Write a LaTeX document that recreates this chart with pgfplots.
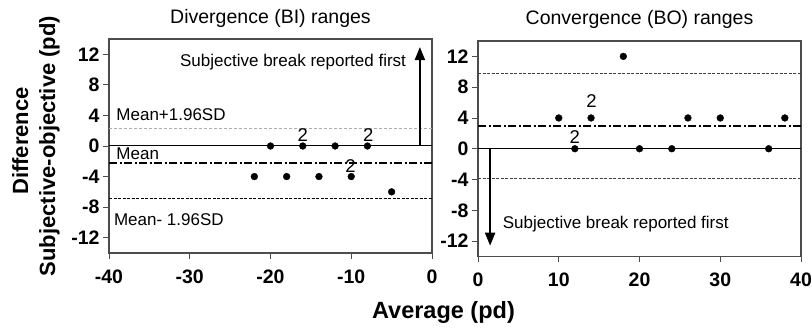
\documentclass[border=0pt]{standalone}
\usepackage{fontspec}
\setmainfont{Liberation Sans}
\usepackage{pgfplots}
\pgfplotsset{compat=1.18}
\usetikzlibrary{arrows.meta}
\definecolor{framec}{gray}{0.3}
\pgfplotsset{
  baplot/.style={
    anchor=south west, scale only axis, width=323pt,
    xtick pos=bottom, ytick pos=left,
    tick align=outside, major tick length=6pt,
    ytick={-12,-8,...,12}, ymin=-14, ymax=14,
    axis line style={framec, line width=1.1pt},
    every tick/.style={framec, line width=0.9pt},
    /pgf/number format/assume math mode=true,
    tick label style={font=\bfseries\fontsize{19.5}{20}\selectfont},
    xticklabel style={yshift=-7pt},
    clip=false,
  },
}
\tikzset{
  meanline/.style={black, line width=1.8pt, dash pattern=on 8pt off 2.5pt on 2pt off 2.5pt},
  zeroline/.style={black, line width=1pt},
  dots/.style={only marks, mark=*, mark size=3.4pt, black},
  ann/.style={font=\fontsize{17}{17}\selectfont, inner sep=0pt},
  two/.style={font=\fontsize{18.5}{18}\selectfont, inner sep=0pt, anchor=base},
}
\begin{document}
\begin{tikzpicture}[x=1pt,y=1pt]
\path[use as bounding box] (0,0) rectangle (812,329);
% Left panel
\begin{axis}[baplot, at={(109pt,76pt)}, height=214pt,
  xmin=-40, xmax=0, xtick={-40,-30,-20,-10,0}]
\addplot[zeroline] coordinates {(-40,0) (0,0)};
\addplot[gray!65, line width=0.9pt, dash pattern=on 3pt off 2pt] coordinates {(-40,2.3) (0,2.3)};
\addplot[black, line width=0.9pt, dash pattern=on 3pt off 1.5pt] coordinates {(-40,-6.8) (0,-6.8)};
\addplot[meanline] coordinates {(-40,-2.2) (0,-2.2)};
\addplot[dots] coordinates {(-22,-4) (-20,0) (-18,-4) (-16,0) (-14,-4) (-12,0) (-10,-4) (-8,0) (-5,-6)};
\addplot[black, line width=2pt, -{Triangle[length=13pt,width=10pt]}] coordinates {(-1.5,0) (-1.5,12.95)};
\node[ann, anchor=base east] at (axis cs:-3.2,10.35) {Subjective break reported first};
\node[ann, anchor=base west] at (axis cs:-39.1,3.4) {Mean+1.96SD};
\node[ann, anchor=base west] at (axis cs:-39.1,-1.83) {Mean};
\node[ann, anchor=base west] at (axis cs:-39.4,-10.43) {Mean- 1.96SD};
\node[two] at (axis cs:-16,0.55) {2};
\node[two] at (axis cs:-7.9,0.55) {2};
\node[two] at (axis cs:-10.1,-3.5) {2};
\node[font=\fontsize{19.5}{20}\selectfont, inner sep=0pt, anchor=base, yshift=15pt] at (axis description cs:0.5,1) {Divergence (BI) ranges};
\end{axis}
% Right panel
\begin{axis}[baplot, at={(478pt,72.5pt)}, height=215.5pt,
  xmin=0, xmax=40, xtick={0,10,20,30,40}]
\addplot[zeroline] coordinates {(0,0) (40,0)};
\addplot[black!75, line width=0.9pt, dash pattern=on 3pt off 1.5pt] coordinates {(0,9.8) (40,9.8)};
\addplot[black!75, line width=0.9pt, dash pattern=on 3pt off 1.5pt] coordinates {(0,-3.8) (40,-3.8)};
\addplot[meanline] coordinates {(0,3.0) (40,3.0)};
\addplot[dots] coordinates {(10,4) (12,0) (14,4) (18,12) (20,0) (24,0) (26,4) (30,4) (36,0) (38,4)};
\addplot[black, line width=2pt, -{Triangle[length=13pt,width=10pt]}] coordinates {(1.5,0) (1.5,-12.6)};
\node[ann, anchor=base west] at (axis cs:3.05,-10.3) {Subjective break reported first};
\node[two] at (axis cs:14.05,5.4) {2};
\node[two] at (axis cs:11.97,0.73) {2};
\node[font=\fontsize{19.5}{20}\selectfont, inner sep=0pt, anchor=base, yshift=16pt] at (axis description cs:0.5,1) {Convergence (BO) ranges};
\end{axis}
% Shared labels
\node[font=\bfseries\fontsize{23.5}{24}\selectfont, inner sep=0pt, anchor=base] at (443.5,10.7) {Average (pd)};
\node[font=\bfseries\fontsize{22}{22}\selectfont, inner sep=0pt, anchor=base, rotate=90] at (28,188) {Difference};
\node[font=\bfseries\fontsize{22}{22}\selectfont, inner sep=0pt, anchor=base, rotate=90] at (55,183) {Subjective-objective (pd)};
\end{tikzpicture}
\end{document}
